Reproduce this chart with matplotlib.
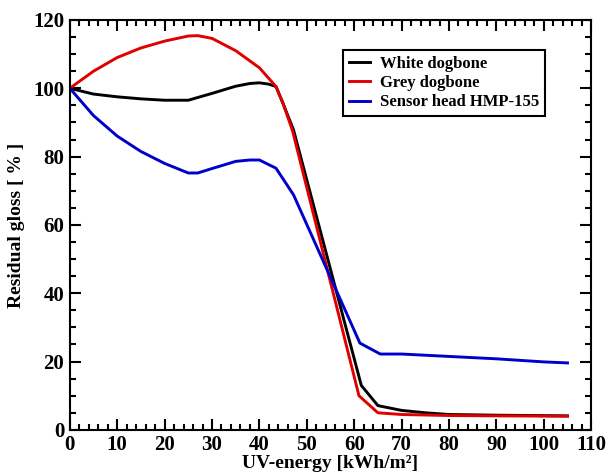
import matplotlib
matplotlib.use("Agg")
import matplotlib.pyplot as plt
from matplotlib.ticker import MultipleLocator

# UV-energy [kWh/m2] and residual gloss [%]
white_x = [0, 5, 10, 15, 20, 25, 30, 35, 38, 40, 42, 43.5, 45, 47.2, 61.5, 65, 70, 75, 80, 90, 105]
white_y = [100, 98.3, 97.5, 96.9, 96.5, 96.5, 98.5, 100.6, 101.4, 101.6, 101.2, 100.5, 95.5, 87.8, 13, 7.1, 5.7, 5, 4.5, 4.3, 4.1]

grey_x = [0, 5, 10, 15, 20, 25, 27, 30, 35, 40, 43.5, 45, 47, 61, 65, 70, 80, 90, 105]
grey_y = [100, 105, 109, 111.8, 113.8, 115.3, 115.4, 114.6, 111, 106, 100.5, 95.5, 87.5, 10, 5, 4.5, 4.2, 4.1, 4.0]

sensor_x = [0, 5, 10, 15, 20, 25, 27, 30, 35, 38, 40, 43.5, 47.2, 61.2, 65.5, 70, 80, 90, 100, 105]
sensor_y = [100, 92, 86, 81.5, 78, 75.2, 75.2, 76.5, 78.6, 79, 79, 76.6, 68.8, 25.4, 22.2, 22.2, 21.5, 20.8, 19.9, 19.6]

plt.rcParams['font.family'] = ['Liberation Serif', 'DejaVu Serif']
plt.rcParams['font.weight'] = 'bold'

fig = plt.figure(figsize=(6.07, 4.75), dpi=100)
ax = fig.add_axes([0.115, 0.095, 0.859, 0.863])

ax.plot(white_x, white_y, color='black', lw=2.1, label='White dogbone')
ax.plot(grey_x, grey_y, color='#e00000', lw=2.1, label='Grey dogbone')
ax.plot(sensor_x, sensor_y, color='#0000cc', lw=2.1, label='Sensor head HMP-155')

ax.set_xlim(0, 110)
ax.set_ylim(0, 120)
ax.xaxis.set_major_locator(MultipleLocator(10))
ax.xaxis.set_minor_locator(MultipleLocator(2))
ax.yaxis.set_major_locator(MultipleLocator(20))
ax.yaxis.set_minor_locator(MultipleLocator(5))
ax.tick_params(which='both', direction='in', top=True, right=True, width=1.5)
ax.tick_params(which='major', length=8, labelsize=15, pad=4)
ax.tick_params(which='minor', length=4)
for s in ax.spines.values():
    s.set_linewidth(1.5)

ax.set_xlabel('UV-energy [kWh/m²]', fontsize=14, fontweight='bold', labelpad=0)
ax.set_ylabel('Residual gloss [ % ]', fontsize=14, fontweight='bold', labelpad=6)

leg = ax.legend(loc='upper right', bbox_to_anchor=(0.912, 0.927), borderaxespad=0,
                fontsize=12, frameon=True, fancybox=False, edgecolor='black', framealpha=1,
                handlelength=1.3, handletextpad=0.6, borderpad=0.35, labelspacing=0.2)
leg.get_frame().set_linewidth(1.5)

fig.savefig('out.png', dpi=100)
